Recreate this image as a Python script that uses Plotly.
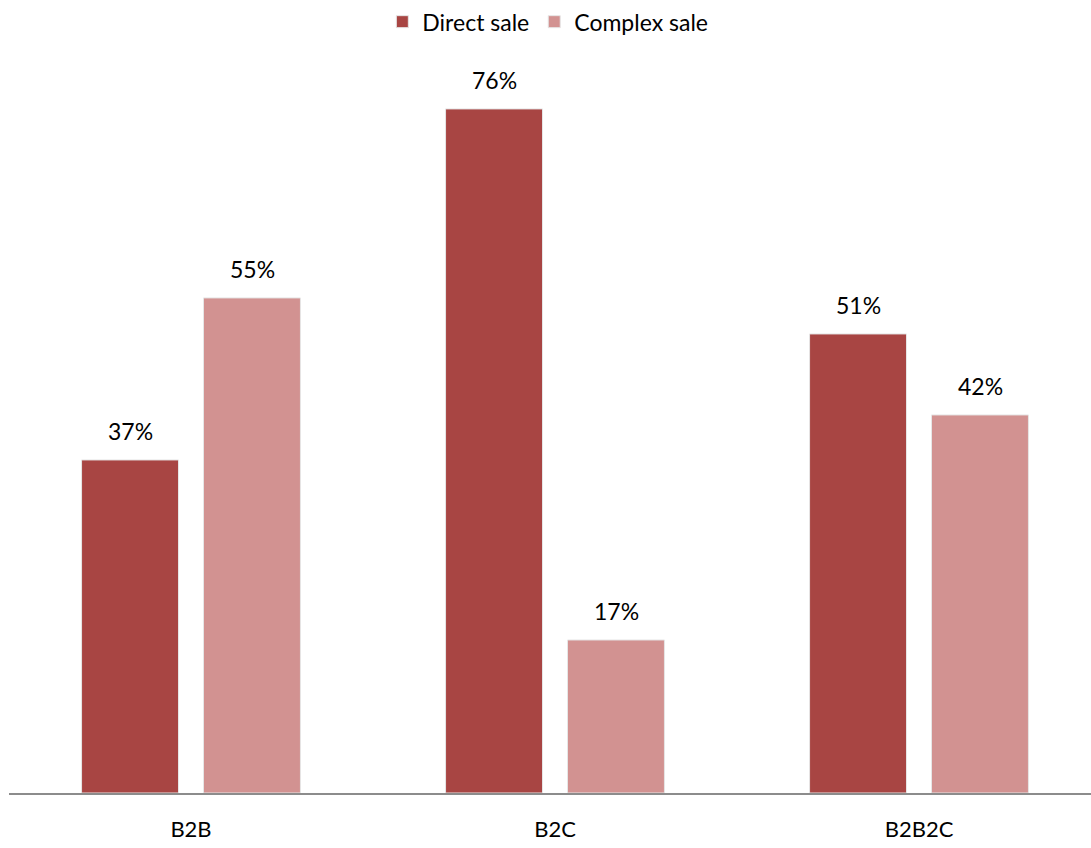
import plotly.graph_objects as go

categories = ["B2B", "B2C", "B2B2C"]
direct_sale = [37, 76, 51]
complex_sale = [55, 17, 42]
series_names = ["Direct sale", "Complex sale"]

colors = ["#A84543", "#D29291"]
FONT = "Lato, Carlito, Calibri, sans-serif"

fig = go.Figure()
for name, vals, col in zip(series_names, [direct_sale, complex_sale], colors):
    fig.add_trace(go.Bar(
        x=categories, y=vals, name=name,
        marker=dict(color=col, line=dict(color="#e6e6e6", width=1)),
        hoverinfo="skip",
    ))

# value labels above bars
for i, cat in enumerate(categories):
    for vals, shift in [(direct_sale, -61), (complex_sale, 61)]:
        fig.add_annotation(
            x=cat, y=vals[i], text=f"{vals[i]}%", showarrow=False,
            xshift=shift, yshift=13, yanchor="bottom",
            font=dict(family=FONT, size=23, color="#000000"),
        )

fig.update_layout(
    width=1091, height=848,
    margin=dict(l=9, r=0, t=60, b=55),
    paper_bgcolor="white", plot_bgcolor="white",
    barmode="group", bargap=0.33, bargroupgap=0.205,
    font=dict(family=FONT, size=20, color="#000000"),
    showlegend=True,
    legend=dict(
        orientation="h", x=0.498, xanchor="center", y=1.086, yanchor="top",
        font=dict(family=FONT, size=23, color="#000000"),
        itemwidth=30, traceorder="normal",
    ),
    xaxis=dict(
        range=[-0.5, 2.4725], showgrid=False, zeroline=False,
        showline=True, linecolor="#8c8c8c", linewidth=2,
        ticks="outside", ticklen=16, tickcolor="rgba(0,0,0,0)",
        tickfont=dict(family=FONT, size=22, color="#000000"),
    ),
    yaxis=dict(
        range=[0, 81.1], visible=False, showgrid=False, zeroline=False,
    ),
)

fig.write_html("out.html", config={"displayModeBar": False},
               post_script="document.body.style.margin='0';")
